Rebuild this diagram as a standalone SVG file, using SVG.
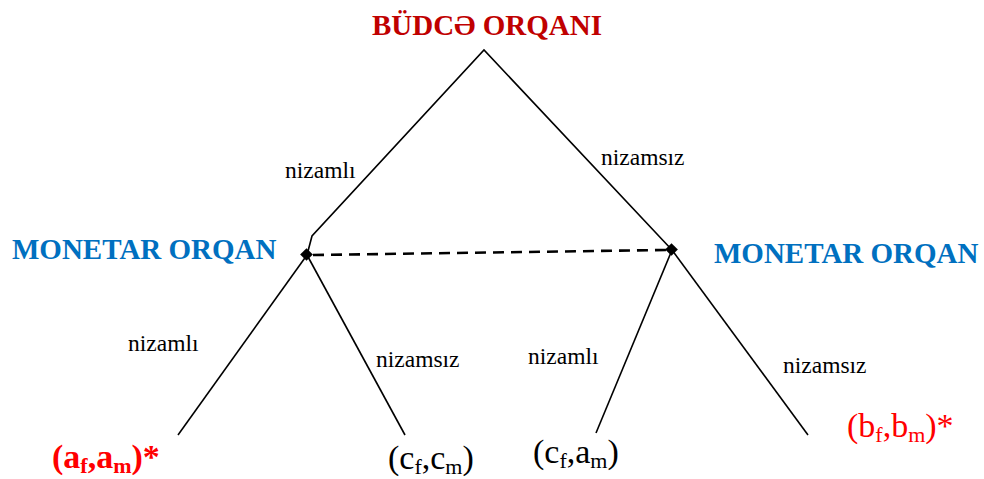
<svg xmlns="http://www.w3.org/2000/svg" width="984" height="479" viewBox="0 0 984 479">
<style>
.ln{stroke:#000;stroke-width:1.6;fill:none}
.dash{stroke:#000;stroke-width:2.6;stroke-dasharray:11 7;fill:none}
.title{font-family:"Liberation Serif",serif;font-weight:bold;font-size:29px;fill:#c00000}
.mon{font-family:"Liberation Serif",serif;font-weight:bold;font-size:29px;fill:#0070c0}
.lab{font-family:"Liberation Serif",serif;font-size:23.5px;fill:#000}
.pay{font-family:"Liberation Serif",serif;font-size:34px;fill:#000}
.red{fill:#ff0000}
.b{font-weight:bold}
.sub{font-size:22px}
</style>
<g id="connectors">
<polyline class="ln" points="307,255 312,236 484,50 672,250"/>
<line class="ln" x1="307" y1="255" x2="178" y2="435"/>
<line class="ln" x1="307" y1="255" x2="405" y2="435"/>
<line class="ln" x1="672" y1="250" x2="596" y2="433"/>
<line class="ln" x1="672" y1="250" x2="808" y2="435"/>
<line class="dash" x1="313" y1="255" x2="666" y2="250"/>
<text class="lab" x="285" y="178">nizamlı</text>
<text class="lab" x="601" y="165">nizamsız</text>
<text class="lab" x="128" y="351">nizamlı</text>
<text class="lab" x="376" y="367">nizamsız</text>
<text class="lab" x="528" y="364">nizamlı</text>
<text class="lab" x="783" y="373">nizamsız</text>
</g>
<g id="budce">
<text class="title" x="487" y="35" text-anchor="middle">BÜDCƏ ORQANI</text>
</g>
<g id="monetar-left">
<rect x="302" y="250" width="9" height="9" transform="rotate(45 306.5 254.5)" fill="#000"/>
<text class="mon" x="12" y="259">MONETAR ORQAN</text>
</g>
<g id="monetar-right">
<rect x="667" y="245" width="9" height="9" transform="rotate(45 671.5 249.5)" fill="#000"/>
<text class="mon" x="714" y="263">MONETAR ORQAN</text>
</g>
<g id="leaf-afam">
<text class="pay red b" x="52" y="468">(a<tspan class="sub" dy="5">f</tspan><tspan dy="-5">,a</tspan><tspan class="sub" dy="5">m</tspan><tspan dy="-5">)*</tspan></text>
</g>
<g id="leaf-cfcm">
<text class="pay" x="388" y="469">(c<tspan class="sub" dy="5">f</tspan><tspan dy="-5">,c</tspan><tspan class="sub" dy="5">m</tspan><tspan dy="-5">)</tspan></text>
</g>
<g id="leaf-cfam">
<text class="pay" x="533" y="463">(c<tspan class="sub" dy="5">f</tspan><tspan dy="-5">,a</tspan><tspan class="sub" dy="5">m</tspan><tspan dy="-5">)</tspan></text>
</g>
<g id="leaf-bfbm">
<text class="pay red" x="847" y="437">(b<tspan class="sub" dy="5">f</tspan><tspan dy="-5">,b</tspan><tspan class="sub" dy="5">m</tspan><tspan dy="-5">)*</tspan></text>
</g>
</svg>
